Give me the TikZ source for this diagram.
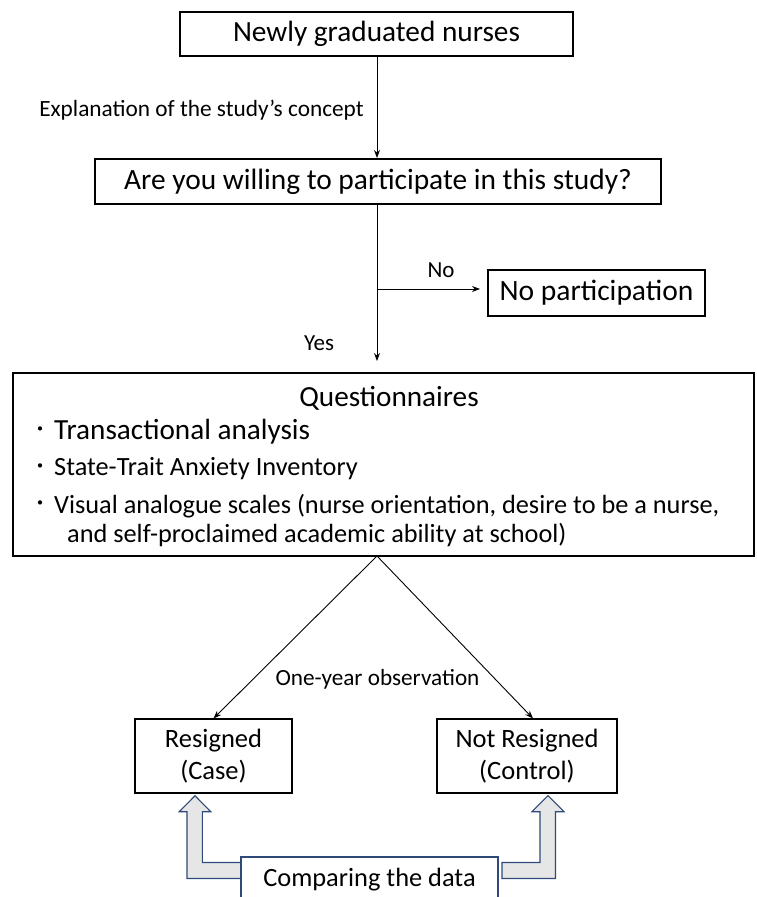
\documentclass[tikz,border=0pt]{standalone}
\usepackage{fontspec}
\setmainfont{Carlito}
\newfontfamily\cjk{Noto Sans CJK JP}
\usetikzlibrary{arrows.meta}
\definecolor{bluegray}{HTML}{2F4A7A}
\definecolor{lightfill}{HTML}{E6E6E6}
\tikzset{
  box/.style={draw=black, line width=1.1pt, rectangle, inner sep=0pt, align=center},
  conn/.style={line width=0.9pt, -{Stealth[length=8pt,width=6pt]}},
  lbl/.style={inner sep=0pt, anchor=center},
  bulletdot/.style={inner sep=0pt, anchor=center, font=\cjk\fontsize{20}{20}\selectfont},
  blockarrow/.style={draw=bluegray, fill=lightfill, line width=1.1pt, line join=miter},
}
\begin{document}
\begin{tikzpicture}[x=1pt,y=-1pt]
\useasboundingbox (0,0) rectangle (756,897);
\clip (0,0) rectangle (756,897);
% boxes
\node[box, minimum width=393pt, minimum height=44pt, font=\fontsize{29.3}{33}\selectfont] (b1) at (376.5,34) {Newly graduated nurses};
\node[box, minimum width=566pt, minimum height=45pt, font=\fontsize{29.4}{33}\selectfont] (b2) at (378,181.5) {Are you willing to participate in this study?};
\node[box, minimum width=217pt, minimum height=46pt, font=\fontsize{29.5}{33}\selectfont] (np) at (596.5,293) {No participation};
\node[box, minimum width=741pt, minimum height=183pt] (q) at (383.5,464.5) {};
\node[box, minimum width=157pt, minimum height=74pt, font=\fontsize{26.5}{32}\selectfont] (res) at (213.5,756) {Resigned\\(Case)};
\node[box, minimum width=180pt, minimum height=74pt, font=\fontsize{26.5}{32}\selectfont] (nres) at (527,756) {Not Resigned\\(Control)};
% questionnaire text
\node[lbl, font=\fontsize{29.2}{33}\selectfont] (qt) at (389,398) {Questionnaires};
\node[bulletdot] (d1) at (40,432) {・};
\node[bulletdot] (d2) at (40,469) {・};
\node[bulletdot] (d3) at (40,506) {・};
\node[lbl, anchor=west, font=\fontsize{29.2}{33}\selectfont] (q1) at (54,432) {Transactional analysis};
\node[lbl, anchor=west, font=\fontsize{26.3}{30}\selectfont] (q2) at (54,469) {State-Trait Anxiety Inventory};
\node[lbl, anchor=west, font=\fontsize{26.3}{30}\selectfont] (q3) at (54,506) {Visual analogue scales (nurse orientation, desire to be a nurse,};
\node[lbl, anchor=west, font=\fontsize{26.3}{30}\selectfont] (q4) at (67,535) {and self-proclaimed academic ability at school)};
% connectors
\draw[conn] (b1.south -| 377,0) -- (377,158) coordinate (b2top);
\coordinate (br) at (377,289);
\draw[line width=0.9pt] (377,204) -- (br);
\draw[conn] (br) -- (377,361) coordinate (qtop);
\draw[conn] (br) -- (480,289) coordinate (nptip);
\node[lbl, font=\fontsize{23.3}{26}\selectfont] (lexp) at (201.5,110) {Explanation of the study’s concept};
\node[lbl, font=\fontsize{23}{26}\selectfont] (lno) at (441,270) {No};
\node[lbl, font=\fontsize{23}{26}\selectfont] (lyes) at (319,343) {Yes};
\coordinate (qb) at (377,556);
\draw[conn] (qb) -- (res.north);
\draw[conn] (qb) -- ([xshift=6pt]nres.north);
\node[lbl, font=\fontsize{23.2}{26}\selectfont] (lobs) at (377.5,679) {One-year observation};
% compare box and block arrows
\draw[blockarrow] (241,862.5) -- (202.3,862.5) -- (202.3,811.7) -- (210.7,811.7) -- (195,795.7) -- (179.3,811.7) -- (187,811.7) -- (187,878.5) -- (241,878.5);
\draw[blockarrow] (502,862.5) -- (540,862.5) -- (540,811.7) -- (532,811.7) -- (548,795.7) -- (564,811.7) -- (555.5,811.7) -- (555.5,878.5) -- (502,878.5) -- cycle;
\node[draw=bluegray, fill=white, line width=1.1pt, minimum width=257pt, minimum height=46pt, inner sep=0pt, font=\fontsize{26.4}{30}\selectfont] (cmp) at (369.5,880) {Comparing the data};
\end{tikzpicture}
\end{document}
